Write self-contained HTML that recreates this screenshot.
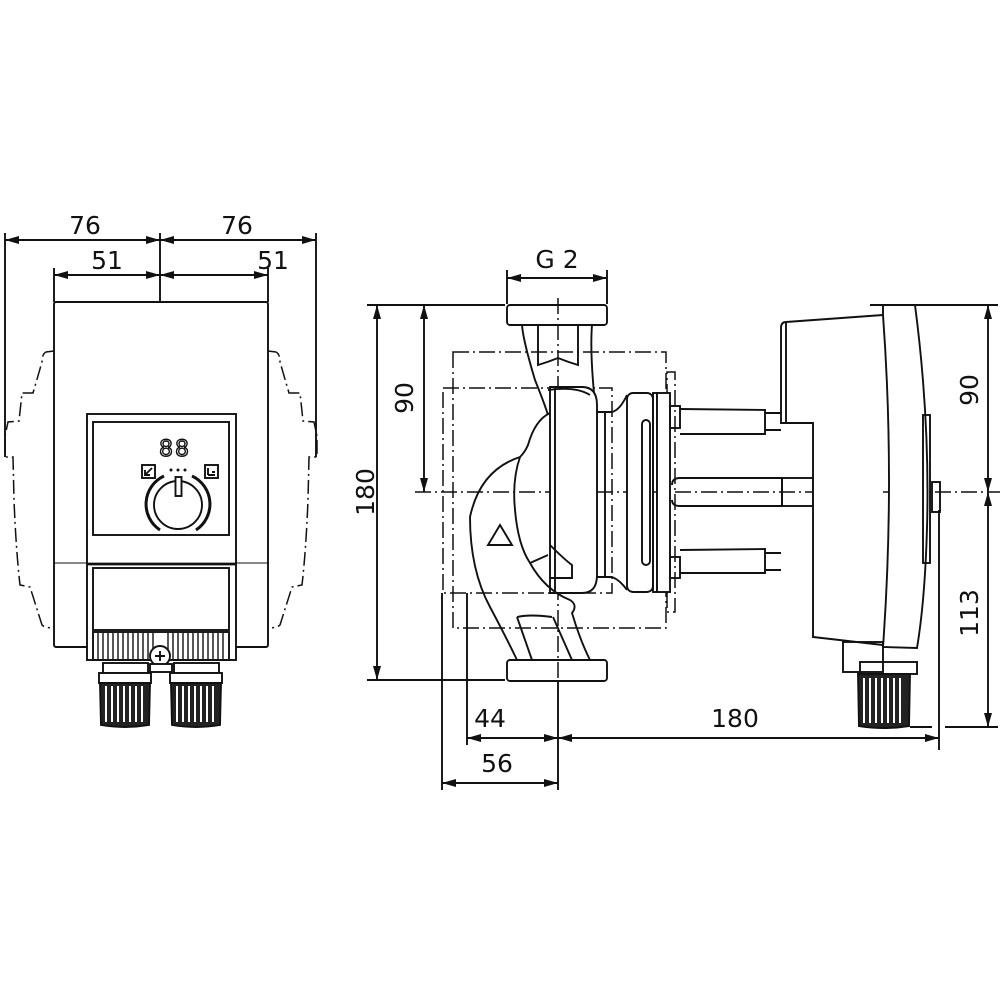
<!DOCTYPE html>
<html><head><meta charset="utf-8"><style>
html,body{margin:0;padding:0;background:#fff}
svg{display:block}
text{font-family:"DejaVu Sans","Liberation Sans",sans-serif;font-size:25px;fill:#111}
</style></head><body>
<svg width="1001" height="1001" viewBox="0 0 1001 1001" xmlns="http://www.w3.org/2000/svg">
<defs>
<marker id="a" viewBox="0 0 14 8" refX="14" refY="4" markerWidth="14" markerHeight="8" markerUnits="userSpaceOnUse" orient="auto-start-reverse"><path d="M0,0 L14,4 L0,8 z" fill="#111"/></marker>
</defs>
<g fill="none" stroke="#111" stroke-width="1.9">
<line x1="5" y1="233" x2="5" y2="457"/>
<line x1="316" y1="233" x2="316" y2="457"/>
<line x1="160" y1="233" x2="160" y2="302"/>
<line x1="54" y1="268" x2="54" y2="302"/>
<line x1="268" y1="268" x2="268" y2="302"/>
<line x1="5" y1="240" x2="160" y2="240" marker-start="url(#a)" marker-end="url(#a)"/>
<line x1="160" y1="240" x2="316" y2="240" marker-start="url(#a)" marker-end="url(#a)"/>
<line x1="54" y1="275" x2="160" y2="275" marker-start="url(#a)" marker-end="url(#a)"/>
<line x1="160" y1="275" x2="268" y2="275" marker-start="url(#a)" marker-end="url(#a)"/>
<rect x="54" y="302" width="214" height="345" rx="2"/>
<path stroke-dasharray="14,4,2,4" stroke-width="1.5" d="M54,351 L46,352 Q42,354 42,362 L33,393 L22,393 L19,421 L8,422 L5,436 L5,457 L13,457 L14,500 Q16,550 20,585 L30,587 L42,625 Q45,628 54,628"/>
<path stroke-dasharray="14,4,2,4" stroke-width="1.5" d="M268,351 L276,352 Q280,354 280,362 L289,393 L300,393 L303,421 L314,422 L317,436 L317,457 L309,457 L308,500 Q306,550 302,585 L292,587 L280,625 Q277,628 268,628"/>
<rect x="87" y="414" width="149" height="246" fill="#fff"/>
<rect x="93" y="422" width="136" height="113"/>
<line x1="87" y1="564" x2="236" y2="564" stroke-width="2.8"/>
<line x1="54" y1="563" x2="87" y2="563" stroke-width="1"/>
<line x1="236" y1="563" x2="268" y2="563" stroke-width="1"/>
<rect x="93" y="568" width="136" height="62"/>
<rect x="93" y="632" width="136" height="28"/>
<circle cx="178" cy="505" r="24"/>
<path d="M160,530 A31,31 0 0 1 164,476" stroke-width="3"/>
<path d="M196,530 A31,31 0 0 0 192,476" stroke-width="3"/>
<rect x="175.5" y="477" width="6" height="19" fill="#fff"/>
<rect x="142" y="465" width="13" height="13"/>
<rect x="205" y="465" width="13" height="13"/>
<path d="M145,475 L152,468 M145,470 L145,475 L150,475"/>
<path d="M208,475 L215,475 M208,468 L208,475 M212,472 L215,472"/>
</g>
<g fill="#111">
<circle cx="171" cy="470" r="1.5"/><circle cx="178" cy="470" r="1.5"/><circle cx="185" cy="470" r="1.5"/>
</g>
<text x="175" y="456" text-anchor="middle" style="font-size:22px;letter-spacing:2px;fill:none;stroke:#111;stroke-width:1.4">88</text>
<g stroke="#111" stroke-width="1.4">
<path d="M98,633V659M103,633V659M108,633V659M113,633V659M118,633V659M123,633V659M128,633V659M133,633V659M138,633V659M143,633V659M148,633V659M153,633V659M168,633V659M173,633V659M178,633V659M183,633V659M188,633V659M193,633V659M198,633V659M203,633V659M208,633V659M213,633V659M218,633V659M223,633V659"/>
</g>
<g fill="#fff" stroke="#111" stroke-width="1.9">
<circle cx="160" cy="656" r="10"/>
<path d="M155,656h10M160,651v10"/>
<rect x="150" y="664" width="22" height="8"/>
<rect x="103" y="663" width="45" height="10"/>
<rect x="99" y="673" width="52" height="10"/>
<rect x="174" y="663" width="45" height="10"/>
<rect x="170" y="673" width="52" height="10"/>
<path d="M100,683 L150,683 L149,725 Q125,729 101,725 z" fill="#222"/>
<path d="M171,683 L221,683 L220,725 Q196,729 172,725 z" fill="#222"/>
</g>
<g stroke="#fff" stroke-width="2">
<path d="M106,686V722M112,686V722M118,686V722M124,686V722M130,686V722M136,686V722M142,686V722"/>
<path d="M177,686V722M183,686V722M189,686V722M195,686V722M201,686V722M207,686V722M213,686V722"/>
</g>
<text x="85" y="234" text-anchor="middle">76</text>
<text x="237" y="234" text-anchor="middle">76</text>
<text x="107" y="269" text-anchor="middle">51</text>
<text x="273" y="269" text-anchor="middle">51</text>

<g fill="none" stroke="#111" stroke-width="1.9">
<line x1="507" y1="270" x2="507" y2="304"/>
<line x1="607" y1="270" x2="607" y2="304"/>
<line x1="507" y1="278" x2="607" y2="278" marker-start="url(#a)" marker-end="url(#a)"/>
<line x1="367" y1="305" x2="505" y2="305"/>
<line x1="367" y1="680" x2="505" y2="680"/>
<line x1="377" y1="305" x2="377" y2="680" marker-start="url(#a)" marker-end="url(#a)"/>
<line x1="424" y1="305" x2="424" y2="492" marker-start="url(#a)" marker-end="url(#a)"/>
<line x1="870" y1="305" x2="998" y2="305"/>
<line x1="945" y1="727" x2="998" y2="727"/>
<line x1="910" y1="727" x2="932" y2="727"/>
<line x1="988" y1="305" x2="988" y2="492" marker-start="url(#a)" marker-end="url(#a)"/>
<line x1="988" y1="492" x2="988" y2="727" marker-start="url(#a)" marker-end="url(#a)"/>
<line x1="939" y1="510" x2="939" y2="750"/>
<line x1="442" y1="593" x2="442" y2="790"/>
<line x1="467" y1="593" x2="467" y2="745"/>
<line x1="558" y1="680" x2="558" y2="790"/>
<line x1="467" y1="738" x2="558" y2="738" marker-start="url(#a)" marker-end="url(#a)"/>
<line x1="558" y1="738" x2="939" y2="738" marker-start="url(#a)" marker-end="url(#a)"/>
<line x1="442" y1="783" x2="558" y2="783" marker-start="url(#a)" marker-end="url(#a)"/>
<g stroke-dasharray="16,4,2,4" stroke-width="1.5">
<rect x="453" y="352" width="213" height="276"/>
<rect x="443" y="388" width="169" height="205"/>
<rect x="667" y="372" width="8" height="240"/>
<line x1="415" y1="492" x2="1000" y2="492"/>
<line x1="558" y1="298" x2="558" y2="680"/>
</g>
<rect x="507" y="305" width="100" height="20" rx="3"/>
<rect x="507" y="660" width="100" height="21" rx="3"/>
<path d="M522,325 Q523,340 535,380 Q545,405 548,415"/>
<path d="M592,325 Q590,350 594,393"/>
<path d="M538,325 V365 Q548,362 558,358 Q568,362 578,365 V325"/>
<path d="M550,387 H582 Q597,387 597,405 V575 Q597,593 582,593 H550 Z" fill="#fff"/>
<path d="M555,387 V593"/>
<path d="M548,390 Q576,386 590,395"/>
<path d="M550,413 Q535,420 528,445 Q525,452 520,457 Q480,470 470,517 Q470,570 490,607 Q505,635 517,660"/>
<path d="M520,457 Q512,480 515,510 Q518,545 530,563 Q545,590 570,600 Q578,605 572,613 Q580,640 590,660"/>
<path d="M530,563 L548,555"/>
<path d="M550,545 Q565,560 572,565 V578 H550"/>
<path d="M517,617 Q530,614 552,617 M517,617 L532,660 M553,617 L572,660"/>
<path d="M488,545 L512,545 L500,525 Z"/>
<path d="M597,412 H612 Q620,410 627,395 M597,577 H612 Q620,580 627,590"/>
<line x1="605" y1="412" x2="605" y2="577"/>
<rect x="627" y="393" width="26" height="199" rx="6" fill="#fff"/>
<rect x="642" y="420" width="8" height="145" rx="4"/>
<rect x="653" y="393" width="4" height="199"/>
<rect x="657" y="393" width="13" height="199" fill="#fff"/>
<rect x="670" y="406" width="10" height="22"/>
<rect x="670" y="557" width="10" height="21"/>
<path d="M680,409 L765,410 V434 L680,434"/>
<path d="M765,413 H781 M765,430 H781"/>
<path d="M680,550 L765,549 V573 L680,573"/>
<path d="M765,553 H781 M765,570 H781"/>
<path d="M672,485 Q672,478 680,478 H782 V506 H680 Q672,506 672,500"/>
<rect x="782" y="478" width="31" height="28"/>
<path d="M883,315 L786,322 Q781,322 781,328 V423 H813 V637 L883,645" fill="#fff"/>
<line x1="786" y1="323" x2="786" y2="423"/>
<path d="M883,315 L883,305 L915,305 Q930,420 927,528 Q925,600 917,648 L883,647 Q895,480 883,315 Z" fill="#fff"/>
<rect x="923" y="415" width="7" height="148"/>
<rect x="932" y="482" width="8" height="30"/>
<rect x="843" y="642" width="40" height="30"/>
<rect x="860" y="662" width="57" height="12"/>
<path d="M858,674 L910,674 L909,726 Q884,730 859,726 Z" fill="#222"/>
</g>
<g stroke="#fff" stroke-width="2">
<path d="M864,678V723M870,678V723M876,678V723M882,678V723M888,678V723M894,678V723M900,678V723"/>
</g>
<text x="557" y="268" text-anchor="middle">G 2</text>
<text x="490" y="727" text-anchor="middle">44</text>
<text x="735" y="727" text-anchor="middle">180</text>
<text x="497" y="772" text-anchor="middle">56</text>
<text transform="translate(374,492) rotate(-90)" text-anchor="middle">180</text>
<text transform="translate(413,398) rotate(-90)" text-anchor="middle">90</text>
<text transform="translate(978,390) rotate(-90)" text-anchor="middle">90</text>
<text transform="translate(978,613) rotate(-90)" text-anchor="middle">113</text>
</svg>
</body></html>
